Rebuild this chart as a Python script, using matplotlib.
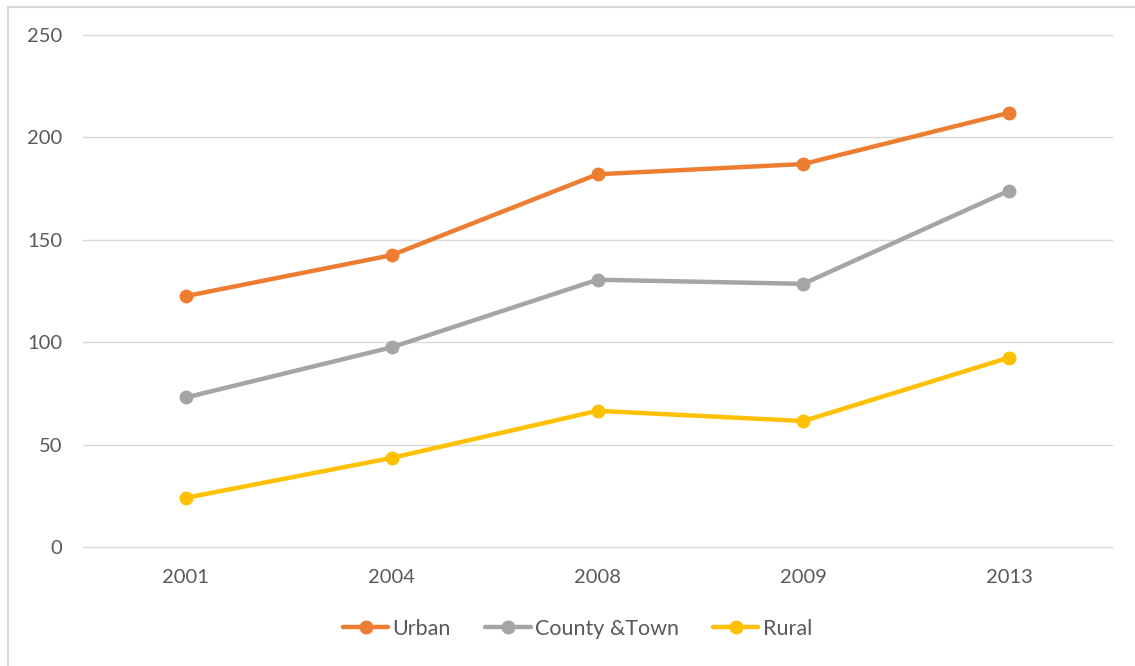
import matplotlib.pyplot as plt
from matplotlib.patches import Rectangle

plt.rcParams["font.family"] = ["Lato", "DejaVu Sans"]

years = ["2001", "2004", "2008", "2009", "2013"]
urban = [122.5, 142.5, 182, 187, 212]
county_town = [73, 97.5, 130.5, 128.5, 174]
rural = [24, 43.5, 66.5, 61.5, 92.5]

series = [
    ("Urban", urban, "#ED7D31"),
    ("County &Town", county_town, "#A5A5A5"),
    ("Rural", rural, "#FFC000"),
]

W, H = 1135, 666
fig = plt.figure(figsize=(W / 100, H / 100), dpi=100)
fig.patch.set_facecolor("white")

# light frame around the chart area
fig.patches.append(Rectangle((8 / W, -0.1), 1.2, 1 - 7 / H + 0.1,
                             transform=fig.transFigure, fill=False,
                             edgecolor="#D9D9D9", linewidth=1.5))

ax = fig.add_axes([83 / W, 1 - 547 / H, (1112 - 83) / W, (547 - 35) / H])
x = list(range(len(years)))
for name, vals, color in series:
    ax.plot(x, vals, color=color, linewidth=3.2, marker="o", markersize=9,
            label=name, solid_capstyle="round", zorder=3)

ax.set_xlim(-0.5, len(years) - 0.5)
ax.set_ylim(0, 250)
ax.set_yticks(range(0, 251, 50))
ax.set_xticks(x)
ax.set_xticklabels(years)
ax.grid(axis="y", color="#D9D9D9", linewidth=1)
for gl in ax.get_ygridlines():
    gl.set_clip_on(False)
ax.set_axisbelow(True)
for s in ax.spines.values():
    s.set_visible(False)
ax.tick_params(length=0, labelsize=14.5, colors="#595959")
ax.tick_params(axis="y", pad=15)
ax.tick_params(axis="x", pad=16)

leg = fig.legend(loc="center", bbox_to_anchor=(0.5 + 10 / W, 1 - 629 / H), ncol=3,
                 frameon=False, fontsize=15.5, handlelength=2.1,
                 columnspacing=1.6, handletextpad=0.2)
for t in leg.get_texts():
    t.set_color("#595959")

fig.savefig("out.png", dpi=100)
